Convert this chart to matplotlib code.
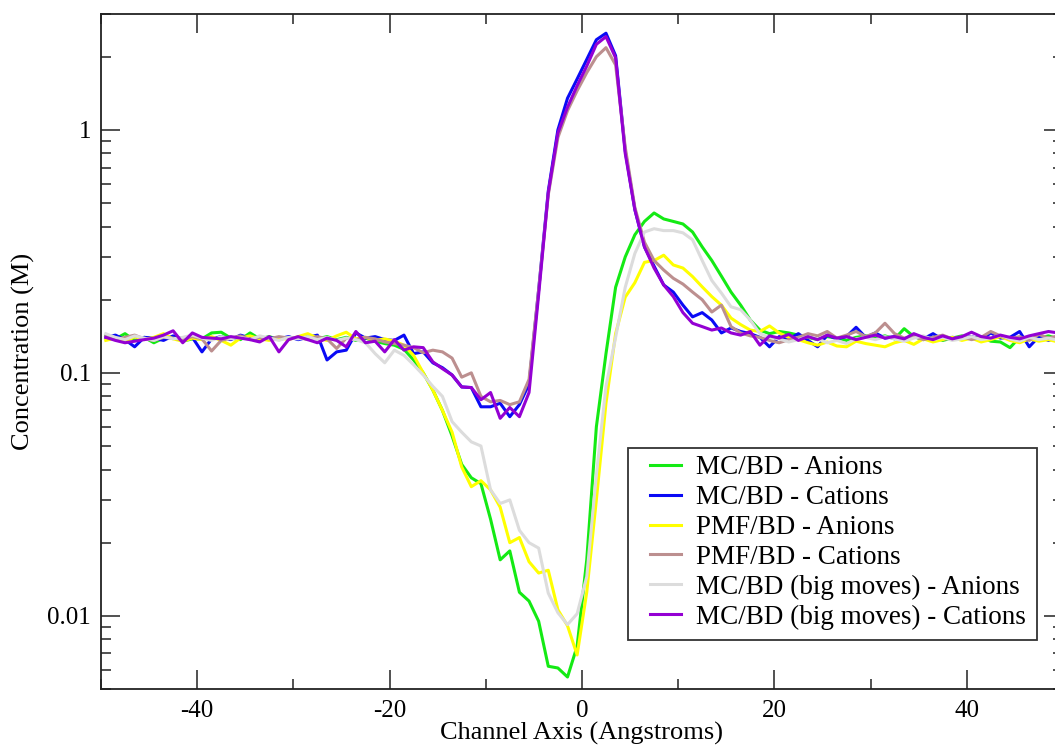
import numpy as np
import matplotlib.pyplot as plt
from matplotlib.patches import Rectangle
from matplotlib.ticker import FixedLocator, FuncFormatter, LogLocator, MultipleLocator

plt.rcParams['font.family'] = ['Liberation Serif', 'DejaVu Serif']
plt.rcParams['axes.unicode_minus'] = False

# bin centres along the channel axis (Angstroms)
x = np.arange(-49.5, 50.0, 1.0)

mcbd_anions = [
    0.142, 0.138, 0.145, 0.136, 0.140, 0.133, 0.139, 0.141, 0.135, 0.138,
    0.138, 0.146, 0.147, 0.139, 0.137, 0.146, 0.138, 0.141, 0.137, 0.140,
    0.139, 0.142, 0.138, 0.141, 0.137, 0.140, 0.136, 0.139, 0.135, 0.132,
    0.130, 0.125, 0.113, 0.100, 0.085, 0.070, 0.055, 0.042, 0.037, 0.035,
    0.025, 0.017, 0.0185, 0.0125, 0.0115, 0.0095, 0.0062, 0.0061, 0.0056, 0.0075,
    0.017, 0.060, 0.120, 0.225, 0.30, 0.37, 0.42, 0.455, 0.43, 0.42,
    0.41, 0.38, 0.33, 0.29, 0.25, 0.215, 0.19, 0.165, 0.150, 0.145,
    0.148, 0.146, 0.143, 0.140, 0.137, 0.141, 0.139, 0.136, 0.140, 0.142,
    0.139, 0.142, 0.138, 0.152, 0.141, 0.137, 0.140, 0.136, 0.139, 0.142,
    0.138, 0.141, 0.135, 0.134, 0.127, 0.140, 0.137, 0.139, 0.142, 0.138,
]

mcbd_cations = [
    0.140, 0.143, 0.137, 0.128, 0.140, 0.139, 0.136, 0.142, 0.138, 0.140,
    0.122, 0.138, 0.141, 0.137, 0.143, 0.139, 0.136, 0.140, 0.138, 0.141,
    0.137, 0.140, 0.143, 0.113, 0.122, 0.124, 0.146, 0.139, 0.141, 0.137,
    0.136, 0.143, 0.120, 0.122, 0.110, 0.105, 0.098, 0.0875, 0.087, 0.0725,
    0.0725, 0.075, 0.066, 0.074, 0.090, 0.22, 0.56, 1.00, 1.35, 1.62,
    1.95, 2.35, 2.50, 2.02, 0.82, 0.47, 0.33, 0.275, 0.23, 0.215,
    0.190, 0.170, 0.177, 0.165, 0.146, 0.153, 0.148, 0.145, 0.140, 0.128,
    0.141, 0.138, 0.145, 0.136, 0.128, 0.143, 0.138, 0.141, 0.154, 0.140,
    0.146, 0.139, 0.141, 0.136, 0.142, 0.138, 0.145, 0.137, 0.140, 0.139,
    0.141, 0.137, 0.146, 0.139, 0.140, 0.148, 0.128, 0.141, 0.136, 0.140,
]

pmfbd_anions = [
    0.136, 0.139, 0.134, 0.141, 0.137, 0.140, 0.145, 0.138, 0.135, 0.139,
    0.137, 0.141, 0.136, 0.130, 0.139, 0.142, 0.138, 0.136, 0.140, 0.137,
    0.141, 0.145, 0.139, 0.136, 0.142, 0.147, 0.138, 0.140, 0.136, 0.138,
    0.135, 0.130, 0.118, 0.100, 0.085, 0.070, 0.057, 0.041, 0.034, 0.036,
    0.033, 0.028, 0.020, 0.021, 0.0167, 0.015, 0.0154, 0.0106, 0.0091, 0.0069,
    0.0125, 0.030, 0.075, 0.145, 0.205, 0.235, 0.285, 0.29, 0.305, 0.278,
    0.270, 0.249, 0.226, 0.206, 0.190, 0.168, 0.158, 0.150, 0.148, 0.156,
    0.146, 0.140, 0.137, 0.133, 0.130, 0.134, 0.129, 0.128, 0.135, 0.132,
    0.130, 0.128, 0.133, 0.136, 0.131, 0.138, 0.134, 0.137, 0.140, 0.136,
    0.139, 0.134, 0.137, 0.141, 0.136, 0.133, 0.138, 0.135, 0.137, 0.134,
]

pmfbd_cations = [
    0.141, 0.137, 0.140, 0.143, 0.138, 0.136, 0.140, 0.139, 0.137, 0.141,
    0.138, 0.123, 0.136, 0.139, 0.142, 0.137, 0.140, 0.138, 0.141, 0.139,
    0.140, 0.137, 0.141, 0.138, 0.126, 0.139, 0.137, 0.140, 0.138, 0.134,
    0.132, 0.130, 0.127, 0.121, 0.124, 0.122, 0.115, 0.096, 0.100, 0.080,
    0.076, 0.077, 0.074, 0.076, 0.094, 0.22, 0.54, 0.93, 1.20, 1.45,
    1.72, 2.00, 2.18, 1.85, 0.85, 0.48, 0.345, 0.29, 0.265, 0.245,
    0.232, 0.215, 0.200, 0.178, 0.190, 0.155, 0.146, 0.142, 0.140, 0.136,
    0.133, 0.137, 0.140, 0.145, 0.142, 0.148, 0.139, 0.143, 0.148, 0.141,
    0.146, 0.160, 0.145, 0.139, 0.141, 0.137, 0.140, 0.143, 0.138, 0.141,
    0.137, 0.140, 0.148, 0.142, 0.138, 0.141, 0.136, 0.144, 0.139, 0.142,
]

big_anions = [
    0.145, 0.140, 0.137, 0.142, 0.139, 0.136, 0.141, 0.138, 0.140, 0.143,
    0.139, 0.136, 0.141, 0.138, 0.140, 0.137, 0.142, 0.139, 0.136, 0.140,
    0.138, 0.141, 0.137, 0.140, 0.136, 0.139, 0.137, 0.133, 0.120, 0.110,
    0.124, 0.118, 0.108, 0.098, 0.088, 0.080, 0.063, 0.057, 0.052, 0.050,
    0.033, 0.029, 0.030, 0.0225, 0.020, 0.019, 0.0124, 0.0103, 0.0092, 0.0102,
    0.0145, 0.038, 0.088, 0.140, 0.225, 0.31, 0.38, 0.392, 0.385, 0.385,
    0.377, 0.353, 0.29, 0.24, 0.213, 0.187, 0.182, 0.165, 0.145, 0.140,
    0.138, 0.134, 0.137, 0.141, 0.138, 0.133, 0.136, 0.132, 0.138, 0.140,
    0.137, 0.141, 0.138, 0.135, 0.139, 0.142, 0.137, 0.140, 0.136, 0.138,
    0.141, 0.137, 0.139, 0.143, 0.138, 0.135, 0.140, 0.137, 0.139, 0.136,
]

big_cations = [
    0.140, 0.136, 0.133, 0.135, 0.137, 0.139, 0.143, 0.149, 0.133, 0.146,
    0.140, 0.139, 0.138, 0.141, 0.139, 0.137, 0.134, 0.141, 0.122, 0.137,
    0.141, 0.137, 0.133, 0.139, 0.136, 0.128, 0.148, 0.133, 0.135, 0.122,
    0.137, 0.124, 0.128, 0.127, 0.111, 0.104, 0.098, 0.0875, 0.087, 0.0775,
    0.083, 0.065, 0.072, 0.066, 0.083, 0.21, 0.55, 0.97, 1.24, 1.52,
    1.83, 2.25, 2.42, 1.98, 0.80, 0.47, 0.33, 0.27, 0.23, 0.206,
    0.177, 0.160, 0.155, 0.150, 0.153, 0.146, 0.143, 0.148, 0.130, 0.142,
    0.139, 0.144, 0.136, 0.141, 0.137, 0.143, 0.139, 0.141, 0.137, 0.140,
    0.143, 0.139, 0.141, 0.138, 0.145, 0.140, 0.137, 0.142, 0.138, 0.141,
    0.147, 0.141, 0.139, 0.143, 0.140, 0.138, 0.142, 0.145, 0.148, 0.146,
]

series = [
    ('MC/BD - Anions', mcbd_anions, '#14ea14'),
    ('MC/BD - Cations', mcbd_cations, '#0a0af5'),
    ('PMF/BD - Anions', pmfbd_anions, '#ffff00'),
    ('PMF/BD - Cations', pmfbd_cations, '#bc8f8f'),
    ('MC/BD (big moves) - Anions', big_anions, '#dcdcdc'),
    ('MC/BD (big moves) - Cations', big_cations, '#9400d3'),
]

fig = plt.figure(figsize=(10.55, 7.51), dpi=100)
ax = fig.add_axes([0.0957, 0.0826, 0.9118, 0.8988])

for label, vals, col in series:
    ax.plot(x, vals, color=col, lw=2.2, label=label)

ax.set_yscale('log')
ax.set_xlim(-50, 50)
ax.set_ylim(0.005, 3.0)

ax.xaxis.set_major_locator(MultipleLocator(20))
ax.xaxis.set_minor_locator(MultipleLocator(10))
ax.yaxis.set_major_locator(FixedLocator([0.01, 0.1, 1]))
ax.yaxis.set_minor_locator(LogLocator(base=10, subs=np.arange(2, 10)))
ax.yaxis.set_major_formatter(FuncFormatter(lambda v, p: '%g' % v))
ax.yaxis.set_minor_formatter(FuncFormatter(lambda v, p: ''))

ax.tick_params(which='both', direction='in', top=True, right=True,
               color='#222222', width=1.1)
ax.tick_params(which='major', length=13.5, labelsize=18)
ax.tick_params(which='minor', length=7)
ax.tick_params(axis='x', which='major', pad=8)
ax.tick_params(axis='y', which='major', pad=7)
for sp in ax.spines.values():
    sp.set_linewidth(1.3)
    sp.set_color('#222222')

ax.set_xlabel('Channel Axis (Angstroms)', fontsize=19, labelpad=0)
ax.set_ylabel('Concentration (M)', fontsize=19, labelpad=9)

# legend entries without their own frame, boxed by a separate rectangle
leg = ax.legend(loc='lower left', bbox_to_anchor=(0.5707, 0.0874),
                fontsize=19.5, handlelength=1.15, handletextpad=0.55,
                labelspacing=0.18, borderpad=0, borderaxespad=0,
                frameon=False)
ax.add_patch(Rectangle((0.548, 0.0726), 0.425, 0.357 - 0.0726,
                       transform=ax.transAxes, facecolor='white',
                       edgecolor='#333333', lw=1.3, zorder=4))
leg.set_zorder(5)

fig.savefig('out.png', dpi=100)
